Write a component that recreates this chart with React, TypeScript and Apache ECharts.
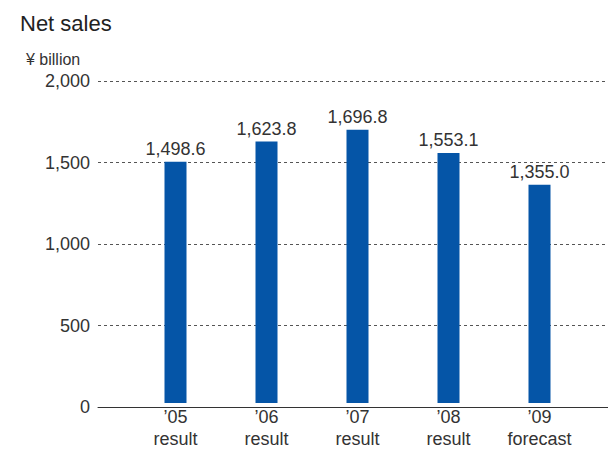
import React, { useEffect, useRef } from "react";
import * as echarts from "echarts";

const years = ["’05", "’06", "’07", "’08", "’09"];
const kinds = ["result", "result", "result", "result", "forecast"];
const netSales = [1498.6, 1623.8, 1696.8, 1553.1, 1355.0];
const yTicks = { min: 0, max: 2000, interval: 500 };

const FONT = "'Liberation Sans', Arial, Helvetica, sans-serif";
const TEXT = "#333";

export default function App() {
  const ref = useRef<HTMLDivElement>(null);
  useEffect(() => {
    if (!ref.current) return;
    const chart = echarts.init(ref.current, undefined, { renderer: "svg" });
    const categories = years.map((y, i) => `${y}\n${kinds[i]}`);
    chart.setOption({
      animation: false,
      backgroundColor: "#fff",
      textStyle: { fontFamily: FONT },
      title: [
        {
          text: "Net sales",
          left: 20,
          top: 12,
          padding: 0,
          textStyle: { fontSize: 22, fontWeight: "normal", color: "#222", fontFamily: FONT },
        },
        {
          text: "¥ billion",
          left: 26,
          top: 51,
          padding: 0,
          textStyle: { fontSize: 16, fontWeight: "normal", color: TEXT, fontFamily: FONT },
        },
      ],
      grid: [
        { left: 98, right: 0, top: 81, bottom: 43 },
        { left: 130, width: 455, top: 81, bottom: 43 },
      ],
      xAxis: [
        {
          gridIndex: 0,
          type: "value",
          min: 0,
          max: 1,
          axisLine: { show: true, onZero: true, lineStyle: { color: "#333", width: 1 } },
          axisTick: { show: false },
          axisLabel: { show: false },
          splitLine: { show: false },
        },
        {
          gridIndex: 1,
          type: "category",
          data: categories,
          axisLine: { show: false },
          axisTick: { show: false },
          axisLabel: {
            margin: 3,
            fontSize: 18,
            lineHeight: 22,
            color: TEXT,
            fontFamily: FONT,
            interval: 0,
          },
        },
      ],
      yAxis: [
        {
          gridIndex: 0,
          type: "value",
          min: yTicks.min,
          max: yTicks.max,
          interval: yTicks.interval,
          axisLine: { show: false },
          axisTick: { show: false },
          axisLabel: {
            margin: 8,
            fontSize: 18,
            color: TEXT,
            fontFamily: FONT,
            formatter: (v: number) => v.toLocaleString("en-US"),
          },
          splitLine: { show: true, lineStyle: { color: "#555", type: [3, 3], width: 1 } },
        },
        {
          gridIndex: 1,
          type: "value",
          min: yTicks.min,
          max: yTicks.max,
          interval: yTicks.interval,
          show: false,
        },
      ],
      series: [
        {
          type: "bar",
          xAxisIndex: 1,
          yAxisIndex: 1,
          data: netSales,
          barWidth: 22,
          itemStyle: { color: "#0555a7" },
          label: {
            show: true,
            position: "top",
            distance: 4,
            fontSize: 18,
            color: TEXT,
            fontFamily: FONT,
            formatter: (p: any) =>
              Number(p.value).toLocaleString("en-US", { minimumFractionDigits: 1, maximumFractionDigits: 1 }),
          },
        },
      ],
    });
    return () => chart.dispose();
  }, []);
  return (
    <div
      ref={ref}
      style={{ position: "absolute", left: 0, top: 0, width: 608, height: 450 }}
    />
  );
}
